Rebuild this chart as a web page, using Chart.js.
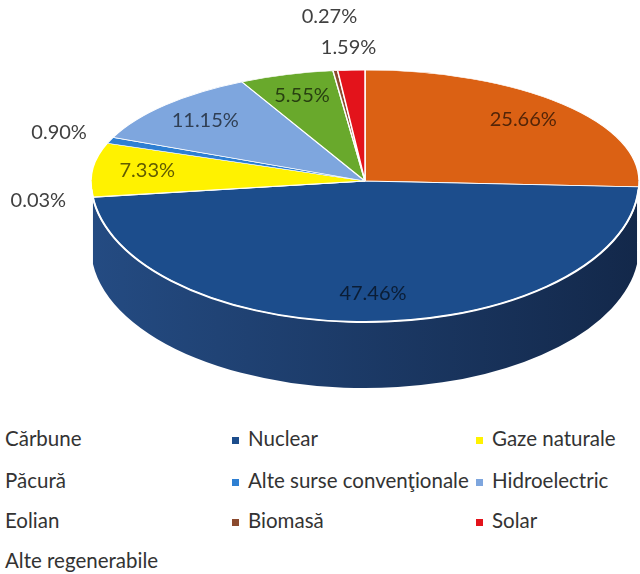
<!DOCTYPE html>
<html>
<head>
<meta charset="utf-8">
<script src="https://cdn.jsdelivr.net/npm/chart.js@4/dist/chart.umd.min.js"></script>
<style>
  body { margin: 0; background: #fff; width: 640px; height: 574px; position: relative; overflow: hidden; }
  #pie { position: absolute; left: 0; top: 0; }
  .item { position: absolute; font: 20.5px Lato, sans-serif; color: #333; line-height: 24px; white-space: nowrap; }
  .mark { display: inline-block; width: 7px; height: 7px; margin-right: 9px; vertical-align: 2px; }
</style>
</head>
<body>
<canvas id="pie" width="640" height="420"></canvas>
<div id="legend"></div>
<script>
// slices in drawing order, clockwise from 12 o'clock
const categories = ["Cărbune", "Nuclear", "Păcură", "Gaze naturale", "Alte surse convenţionale",
  "Hidroelectric", "Eolian", "Biomasă", "Solar", "Alte regenerabile"];
const shares = [25.66, 47.46, 0.03, 7.33, 0.90, 11.15, 5.55, 0.27, 1.59, 0];
// order the legend lists them in
const legendOrder = ["Cărbune", "Nuclear", "Gaze naturale", "Păcură", "Alte surse convenţionale",
  "Hidroelectric", "Eolian", "Biomasă", "Solar", "Alte regenerabile"];

const sliceColors = ["#db6114", "#1c4d8c", "#7f7f7f", "#fff200", "#2e7fd2",
  "#7ea6de", "#69a92c", "#8b4a2e", "#e3131b", "#a5a5a5"];
const sideColors = [["#b8520f", "#8e3f0b"], ["#244b82", "#13284a"], ["#666", "#555"], ["#d6cc00", "#b0a800"],
  ["#2466aa", "#1b4e84"], ["#6485b4", "#4f6b92"], ["#558a22", "#43701b"], ["#6e3a24", "#5a2f1d"],
  ["#b80f16", "#950c12"], ["#888", "#777"]];

const TILT_BACK = 0.405;   // vertical squash of the far half
const TILT_FRONT = 0.515;  // near half looks a bit larger
const DEPTH = 66;
const RIM = 0.12;          // perspective hides the wall this close to the sides

function geometry(chart) {
  const arcs = chart.getDatasetMeta(0).data;
  return { arcs, cx: arcs[0].x, cy: arcs[0].y, r: arcs[0].outerRadius };
}

function darken(hex, k) {
  const n = parseInt(hex.slice(1), 16);
  const c = [n >> 16, (n >> 8) & 255, n & 255].map(v => Math.round(v * k));
  return "rgb(" + c.join(",") + ")";
}

const pie3d = {
  id: "pie3d",
  beforeDatasetsDraw(chart) {
    const ctx = chart.ctx;
    const { arcs, cx, cy, r } = geometry(chart);

    // side wall, only the front half shows
    arcs.forEach((arc, i) => {
      const a0 = Math.max(arc.startAngle, RIM);
      const a1 = Math.min(arc.endAngle, Math.PI - RIM);
      if (a1 <= a0) return;
      const g = ctx.createLinearGradient(cx - r, 0, cx + r, 0);
      g.addColorStop(0, sideColors[i][0]);
      g.addColorStop(1, sideColors[i][1]);
      ctx.beginPath();
      ctx.ellipse(cx, cy, r, r * TILT_FRONT, 0, a0, a1);
      ctx.ellipse(cx, cy + DEPTH, r, r * TILT_FRONT, 0, a1, a0, true);
      ctx.closePath();
      ctx.fillStyle = g;
      ctx.fill();
    });

    // top face: draw the library's arcs twice, squashed, one half each
    [[TILT_BACK, 0, cy + 0.5], [TILT_FRONT, cy - 0.5, chart.height]].forEach(([k, y0, y1]) => {
      ctx.save();
      ctx.beginPath();
      ctx.rect(0, y0, chart.width, y1 - y0);
      ctx.clip();
      ctx.translate(cx, cy);
      ctx.scale(1, k);
      ctx.translate(-cx, -cy);
      arcs.forEach(a => a.draw(ctx));
      ctx.restore();
    });

    // white rim between top and side
    ctx.beginPath();
    ctx.ellipse(cx, cy, r, r * TILT_FRONT, 0, RIM / 2, Math.PI - RIM / 2);
    ctx.strokeStyle = "#fff";
    ctx.lineWidth = 2;
    ctx.stroke();
    return false;
  },
  afterDraw(chart) {
    const ctx = chart.ctx;
    const { arcs, cx, cy, r } = geometry(chart);
    ctx.save();
    ctx.font = "20px Lato, sans-serif";
    ctx.textAlign = "center";
    ctx.textBaseline = "middle";
    const placed = [];
    const order = shares.map((v, i) => i).filter(i => shares[i] > 0)
      .sort((a, b) => shares[b] - shares[a]);
    order.forEach(i => {
      const a = arcs[i];
      const mid = (a.startAngle + a.endAngle) / 2;
      const inside = shares[i] >= 3;
      const f = inside ? 0.8 : 1.2;
      const s = Math.sin(mid);
      const x = cx + f * r * Math.cos(mid);
      let y = cy + f * r * s * (s > 0 ? TILT_FRONT : TILT_BACK);
      const text = shares[i].toFixed(2) + "%";
      const w = ctx.measureText(text).width, h = 22;
      if (!inside) {
        let hit = true;
        while (hit) {
          hit = false;
          placed.forEach(p => {
            if (Math.abs(p.x - x) < (p.w + w) / 2 && Math.abs(p.y - y) < (p.h + h) / 2 + 6) {
              y = p.y - h - 9;
              hit = true;
            }
          });
        }
      }
      placed.push({ x, y, w, h });
      ctx.fillStyle = inside ? darken(sliceColors[i], 0.38) : "#404040";
      ctx.fillText(text, x, y);
    });
    ctx.restore();
  }
};

const chart = new Chart(document.getElementById("pie"), {
  type: "pie",
  data: {
    labels: categories,
    datasets: [{
      data: shares,
      backgroundColor: sliceColors,
      borderColor: "#fff",
      borderWidth: 1.5,
      radius: 274
    }]
  },
  options: {
    responsive: false,
    animation: false,
    events: [],
    layout: { padding: { left: 90, right: 0, top: 0, bottom: 58 } },
    plugins: {
      legend: { display: false },
      tooltip: { enabled: false }
    }
  },
  plugins: [pie3d]
});

// legend below the pie, three columns, first column has no swatch
const colX = [5, 232, 476];
const rowY = [438, 480, 520, 560];
const legendEl = document.getElementById("legend");
chart.options.plugins.legend.labels.generateLabels(chart)
  .sort((a, b) => legendOrder.indexOf(a.text) - legendOrder.indexOf(b.text))
  .forEach((item, n) => {
    const div = document.createElement("div");
    div.className = "item";
    div.style.left = colX[n % 3] + "px";
    div.style.top = (rowY[Math.floor(n / 3)] - 12) + "px";
    if (n % 3) {
      const m = document.createElement("span");
      m.className = "mark";
      m.style.background = item.fillStyle;
      div.appendChild(m);
    }
    div.appendChild(document.createTextNode(item.text));
    legendEl.appendChild(div);
  });
</script>
</body>
</html>
